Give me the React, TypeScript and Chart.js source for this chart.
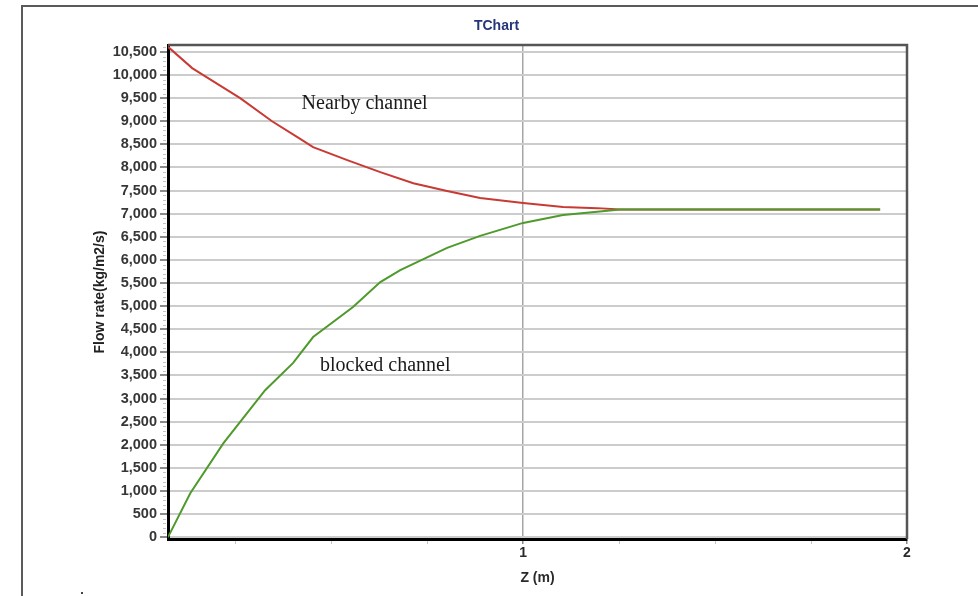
import React, { useEffect, useRef } from "react";
import { Chart, registerables } from "chart.js";

Chart.register(...registerables);

// Flow rate along the channel length, nearby (open) channel
const nearbyZ = [0.075, 0.138, 0.167, 0.263, 0.346, 0.411, 0.453, 0.542, 0.628, 0.714, 0.802, 0.888, 1.0, 1.104, 1.193, 1.253, 1.93];
const nearbyFlow = [10610, 10150, 10000, 9500, 9000, 8660, 8440, 8160, 7900, 7660, 7490, 7340, 7230, 7145, 7120, 7090, 7090];

// Flow rate along the channel length, blocked channel
const blockedZ = [0.075, 0.133, 0.219, 0.328, 0.401, 0.453, 0.557, 0.628, 0.68, 0.802, 0.888, 1.0, 1.104, 1.193, 1.253, 1.93];
const blockedFlow = [0, 950, 2030, 3180, 3770, 4330, 4980, 5520, 5780, 6260, 6520, 6800, 6970, 7040, 7090, 7090];

// Axis ticks
const flowTicks = [0, 500, 1000, 1500, 2000, 2500, 3000, 3500, 4000, 4500, 5000, 5500, 6000, 6500, 7000, 7500, 8000, 8500, 9000, 9500, 10000, 10500];
const flowMinorTicks = [100, 200, 300, 400];
const zTicks = [1, 2];
const zMinorTicks = [0.25, 0.5, 0.75, 1.25, 1.5, 1.75];

// In-plot curve names, anchored in data coordinates
const curveLabels = [
  { text: "Nearby channel", z: 0.423, flow: 9260 },
  { text: "blocked channel", z: 0.471, flow: 3600 },
];

const SANS = '"Liberation Sans", Arial, sans-serif';
const SERIF = '"Liberation Serif", "Times New Roman", serif';

const toPoints = (xs: number[], ys: number[]) => xs.map((x, i) => ({ x, y: ys[i] }));

const decorPlugin = {
  id: "decor",
  afterDatasetsDraw(chart: any) {
    const { ctx, chartArea, scales } = chart;
    const { left, right, top, bottom } = chartArea;
    const xs = scales.x;
    const ys = scales.y;
    ctx.save();

    // top and right frame of the plot area
    ctx.strokeStyle = "#555555";
    ctx.lineWidth = 2.5;
    ctx.beginPath();
    ctx.moveTo(left, top);
    ctx.lineTo(right, top);
    ctx.lineTo(right, bottom);
    ctx.stroke();

    // minor ticks
    ctx.strokeStyle = "#c4c4c4";
    ctx.lineWidth = 1;
    ctx.beginPath();
    for (const v of zMinorTicks) {
      const px = Math.round(xs.getPixelForValue(v)) + 0.5;
      ctx.moveTo(px, bottom + 2);
      ctx.lineTo(px, bottom + 5);
    }
    for (const base of flowTicks) {
      for (const m of flowMinorTicks) {
        const v = base + m;
        if (v > ys.max) continue;
        const py = Math.round(ys.getPixelForValue(v)) + 0.5;
        ctx.moveTo(left - 5, py);
        ctx.lineTo(left - 2, py);
      }
    }
    ctx.stroke();

    // curve names
    ctx.fillStyle = "#1a1a1a";
    ctx.font = `20px ${SERIF}`;
    ctx.textAlign = "left";
    ctx.textBaseline = "alphabetic";
    for (const l of curveLabels) {
      ctx.fillText(l.text, xs.getPixelForValue(l.z), ys.getPixelForValue(l.flow));
    }
    ctx.restore();
  },
};

export default function App() {
  const canvasRef = useRef<HTMLCanvasElement | null>(null);

  useEffect(() => {
    if (!canvasRef.current) return;
    Chart.defaults.font.family = SANS;
    const chart = new Chart(canvasRef.current, {
      type: "line",
      data: {
        datasets: [
          {
            label: "Nearby channel",
            data: toPoints(nearbyZ, nearbyFlow),
            borderColor: "#c83a34",
            borderWidth: 2,
            pointRadius: 0,
            tension: 0,
            fill: false,
            order: 2,
          },
          {
            label: "blocked channel",
            data: toPoints(blockedZ, blockedFlow),
            borderColor: "#4e9a2c",
            borderWidth: 2,
            pointRadius: 0,
            tension: 0,
            fill: false,
            order: 1,
          },
        ],
      },
      options: {
        responsive: false,
        animation: false,
        events: [],
        layout: { padding: { left: 86, right: 71, top: 0, bottom: 0 } },
        plugins: {
          legend: { display: false },
          tooltip: { enabled: false },
          title: {
            display: true,
            text: "TChart",
            color: "#26357a",
            font: { family: SANS, size: 14, weight: "bold" },
            padding: { top: 18, bottom: 10.2 },
          },
        },
        scales: {
          x: {
            type: "linear",
            position: "bottom",
            min: 0.075,
            max: 2,
            afterBuildTicks: (scale: any) => {
              scale.ticks = zTicks.map((v) => ({ value: v }));
            },
            afterFit: (scale: any) => {
              scale.height = 57;
            },
            ticks: {
              color: "#2a2a2a",
              font: { family: SANS, size: 14, weight: "bold" },
              padding: 1,
              autoSkip: false,
              maxRotation: 0,
              callback: (v: any) => String(v),
            },
            grid: {
              color: (ctx: any) => (ctx.tick && ctx.tick.value === 1 ? "#a6a6a6" : "rgba(0,0,0,0)"),
              lineWidth: 1.5,
              tickColor: "#8a8a8a",
              tickLength: 5,
            },
            border: { color: "#000000", width: 3 },
            title: {
              display: true,
              text: "Z (m)",
              color: "#2a2a2a",
              font: { family: SANS, size: 14, weight: "bold" },
              padding: { top: 0, bottom: 9 },
            },
          },
          y: {
            type: "linear",
            position: "left",
            min: -40,
            max: 10650,
            afterBuildTicks: (scale: any) => {
              scale.ticks = flowTicks.map((v) => ({ value: v }));
            },
            afterFit: (scale: any) => {
              scale.width = 82;
            },
            ticks: {
              color: "#363636",
              font: { family: SANS, size: 14.5, weight: "bold" },
              padding: 3,
              autoSkip: false,
              callback: (v: any) => Number(v).toLocaleString("en-US"),
            },
            grid: {
              color: "#cccccc",
              lineWidth: 2,
              tickColor: "#8a8a8a",
              tickLength: 8,
            },
            border: { color: "#000000", width: 3 },
            title: {
              display: true,
              text: "Flow rate(kg/m2/s)",
              color: "#222222",
              font: { family: SANS, size: 14, weight: "bold" },
              padding: { top: 6, bottom: 0 },
            },
          },
        },
      },
      plugins: [decorPlugin],
    });
    return () => chart.destroy();
  }, []);

  return (
    <div style={{ position: "absolute", left: 0, top: 0, width: 978, height: 596, background: "#ffffff", overflow: "hidden" }}>
      <div
        style={{
          position: "absolute",
          left: 21,
          top: 5,
          width: 957,
          height: 591,
          boxSizing: "border-box",
          borderTop: "2px solid #5a5a5a",
          borderLeft: "2px solid #5a5a5a",
        }}
      />
      <div style={{ position: "absolute", left: 81, top: 592, width: 2, height: 2, background: "#444" }} />
      <canvas ref={canvasRef} width={978} height={596} style={{ position: "absolute", left: 0, top: 0, width: 978, height: 596 }} />
    </div>
  );
}
